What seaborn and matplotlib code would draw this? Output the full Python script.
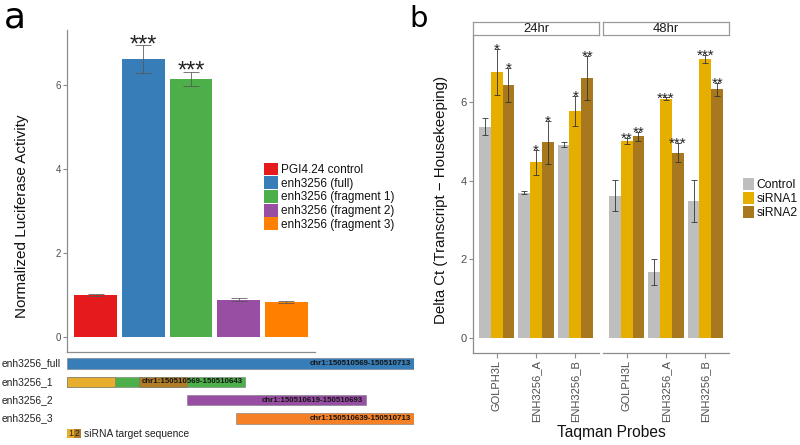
import numpy as np
import pandas as pd
import matplotlib
matplotlib.use("Agg")
import matplotlib.pyplot as plt
import matplotlib.transforms as mtransforms
from matplotlib.patches import Patch, Rectangle
import seaborn as sns

# ---------------- data: panel a ----------------
constructs = ["PGI4.24 control", "enh3256 (full)", "enh3256 (fragment 1)",
              "enh3256 (fragment 2)", "enh3256 (fragment 3)"]
luc_mean = [1.00, 6.62, 6.14, 0.89, 0.83]
luc_err = [0.03, 0.33, 0.17, 0.04, 0.02]
luc_sig = ["", "***", "***", "", ""]
construct_colors = ["#E41A1C", "#377EB8", "#4DAF4A", "#984EA3", "#FF7F00"]

# fragment map
frag_names = ["enh3256_full", "enh3256_1", "enh3256_2", "enh3256_3"]
frag_start = [150510569, 150510569, 150510619, 150510639]
frag_end = [150510713, 150510643, 150510693, 150510713]
frag_colors = ["#377EB8", "#4DAF4A", "#984EA3", "#F58025"]
sirna_labels = ["1", "2"]
sirna_start = [150510569, 150510599]
sirna_end = [150510589, 150510619]
sirna_colors = ["#E6AE2C", "#B07D26"]

# ---------------- data: panel b ----------------
probes = ["GOLPH3L", "ENH3256_A", "ENH3256_B"]
times = ["24hr", "48hr"]
treatments = ["Control", "siRNA1", "siRNA2"]
treat_colors = ["#BEBEBE", "#E6AF00", "#A8781E"]

ctrl_24 = [5.38, 3.70, 4.92]
si1_24 = [6.77, 4.47, 5.78]
si2_24 = [6.44, 4.98, 6.62]
ctrl_24_err = [0.22, 0.03, 0.07]
si1_24_err = [0.58, 0.32, 0.38]
si2_24_err = [0.43, 0.55, 0.56]
si1_24_sig = ["*", "*", "*"]
si2_24_sig = ["*", "*", "**"]

ctrl_48 = [3.62, 1.67, 3.49]
si1_48 = [5.02, 6.09, 7.10]
si2_48 = [5.13, 4.72, 6.33]
ctrl_48_err = [0.40, 0.33, 0.53]
si1_48_err = [0.08, 0.03, 0.10]
si2_48_err = [0.11, 0.25, 0.17]
si1_48_sig = ["**", "***", "***"]
si2_48_sig = ["**", "***", "**"]

# ---------------- style ----------------
sns.set_theme(style="white")
plt.rcParams["font.family"] = ["Liberation Sans", "DejaVu Sans"]

W, H = 800, 445
fig = plt.figure(figsize=(W / 100, H / 100), dpi=100)
fig.patch.set_facecolor("white")


def rect(x0, y0, x1, y1):
    return [x0 / W, 1 - y1 / H, (x1 - x0) / W, (y1 - y0) / H]


AXC = "#8C8C8C"
TXC = "#4D4D4D"

# ================= panel a =================
ax_a = fig.add_axes(rect(67, 30, 315, 352))
df_a = pd.DataFrame({"construct": constructs, "value": luc_mean})
sns.barplot(data=df_a, x="construct", y="value", hue="construct",
            palette=construct_colors, order=constructs, hue_order=constructs,
            width=0.9, linewidth=0, saturation=1, errorbar=None, legend=False,
            ax=ax_a)
centers = sorted(b.get_x() + b.get_width() / 2 for b in ax_a.patches)
ax_a.errorbar(centers, luc_mean, yerr=luc_err, fmt="none", ecolor="#555555",
              elinewidth=0.7, capsize=5.5, capthick=0.7, alpha=0.8)
for cx, m, e, s in zip(centers, luc_mean, luc_err, luc_sig):
    if s:
        ax_a.annotate(s, xy=(cx, m + e), xytext=(0, -4.3), textcoords="offset points",
                      ha="center", va="baseline", fontsize=17, color="#222222")
ax_a.set_xlim(-0.6, 4.6)
ax_a.set_ylim(-0.357, 7.31)
ax_a.set_yticks([0, 2, 4, 6])
ax_a.set_xticks([])
ax_a.set_xlabel("")
ax_a.set_ylabel("")
for sp in ["top", "right"]:
    ax_a.spines[sp].set_visible(False)
for sp in ["left", "bottom"]:
    ax_a.spines[sp].set_color(AXC)
    ax_a.spines[sp].set_linewidth(0.9)
ax_a.tick_params(axis="y", length=3, width=0.8, color=AXC, pad=1.5,
                 labelsize=7, labelcolor=TXC, left=True)
fig.text(22.5 / W, 1 - 216 / H, "Normalized Luciferase Activity", rotation=90,
         ha="center", va="center", fontsize=11, color="#111111")

leg_a = fig.legend(handles=[Patch(facecolor=c, edgecolor="none", label=l)
                            for c, l in zip(construct_colors, constructs)],
                   loc="upper left", bbox_to_anchor=(264 / W, 1 - 162.5 / H),
                   bbox_transform=fig.transFigure, frameon=False, fontsize=8.5,
                   handlelength=1.15, handleheight=1.3, handletextpad=0.25,
                   labelspacing=0.03, borderpad=0, borderaxespad=0)
for t in leg_a.get_texts():
    t.set_color("#111111")

fig.text(4 / W, 1 - 28 / H, "a", fontsize=26, ha="left", va="baseline",
         family="DejaVu Sans", color="black")

# ---------------- fragment map ----------------
ax_m = fig.add_axes(rect(67, 355, 414, 442))
row_y = np.arange(len(frag_names))
bar_h = 0.57
for i in row_y:
    ax_m.barh(i, frag_end[i] - frag_start[i], left=frag_start[i], height=bar_h,
              color=frag_colors[i], edgecolor="#7a7a7a", linewidth=0.4)
# siRNA target segments on fragment 1
ax_m.barh([1, 1], [e - s for s, e in zip(sirna_start, sirna_end)], left=sirna_start,
          height=bar_h, color=sirna_colors, edgecolor="#7a7a7a", linewidth=0.4)
for i in row_y:
    ax_m.annotate(f"chr1:{frag_start[i]}-{frag_end[i]}", xy=(frag_end[i], i),
                  xytext=(-2.2, 0), textcoords="offset points", ha="right",
                  va="center", fontsize=5.7, fontweight="bold", color="#151515")
ax_m.set_xlim(frag_start[0], frag_end[0])
ax_m.set_ylim(4.29, -0.464)
ax_m.axis("off")
blend = mtransforms.blended_transform_factory(fig.transFigure, ax_m.transData)
for i, name in zip(row_y, frag_names):
    ax_m.text(2 / W, i, name, transform=blend, ha="left", va="center",
              fontsize=7.4, color="#222222")
# siRNA legend
leg_row = 3.83
blend2 = mtransforms.blended_transform_factory(ax_m.transAxes, ax_m.transData)
box_w = 7 / 347
for k, (lab, col) in enumerate(zip(sirna_labels, sirna_colors)):
    ax_m.add_patch(Rectangle((k * box_w, leg_row - 0.23), box_w, 0.46,
                             transform=blend2, facecolor=col, edgecolor="none",
                             clip_on=False))
    ax_m.text((k + 0.5) * box_w, leg_row, lab, transform=blend2, ha="center",
              va="center", fontsize=6.3, color="#222222")
ax_m.text(2 * box_w + 3 / 347, leg_row, "siRNA target sequence", transform=blend2,
          ha="left", va="center", fontsize=7.4, color="#222222")

# ================= panel b =================
x_lims = (-0.6, 2.6)
panel_px = [(473, 599), (603, 729)]
series = {
    "24hr": ([ctrl_24, si1_24, si2_24], [ctrl_24_err, si1_24_err, si2_24_err],
             [None, si1_24_sig, si2_24_sig]),
    "48hr": ([ctrl_48, si1_48, si2_48], [ctrl_48_err, si1_48_err, si2_48_err],
             [None, si1_48_sig, si2_48_sig]),
}
for j, tm in enumerate(times):
    x0, x1 = panel_px[j]
    ax = fig.add_axes(rect(x0, 35, x1, 353))
    vals, errs, sigs = series[tm]
    rows = []
    for t, v in zip(treatments, vals):
        for p, val in zip(probes, v):
            rows.append({"probe": p, "treatment": t, "value": val})
    df = pd.DataFrame(rows)
    sns.barplot(data=df, x="probe", y="value", hue="treatment", order=probes,
                hue_order=treatments, palette=treat_colors, width=0.9,
                linewidth=0, saturation=1, errorbar=None, legend=False, ax=ax)
    bar_conts = list(ax.containers)
    for k, cont in enumerate(bar_conts):
        xs = [b.get_x() + b.get_width() / 2 for b in cont]
        ax.errorbar(xs, vals[k], yerr=errs[k], fmt="none", ecolor="#333333",
                    elinewidth=0.6, capsize=2.2, capthick=0.6)
        if sigs[k] is not None:
            for xx, m, e, s in zip(xs, vals[k], errs[k], sigs[k]):
                ax.annotate(s, xy=(xx, m + e), xytext=(0, -3.6),
                            textcoords="offset points", ha="center",
                            va="baseline", fontsize=11, color="#222222")
    ax.set_xlim(*x_lims)
    ax.set_ylim(-0.38, 7.71)
    ax.set_xlabel("")
    ax.set_ylabel("")
    ax.set_yticks([0, 2, 4, 6])
    for sp in ["top", "right"]:
        ax.spines[sp].set_visible(False)
    ax.spines["bottom"].set_color(AXC)
    ax.spines["bottom"].set_linewidth(0.9)
    ax.tick_params(axis="x", length=3.5, width=0.8, color=AXC, pad=1.5,
                   labelsize=8.0, labelcolor=TXC, labelrotation=90, bottom=True)
    if j == 0:
        ax.spines["left"].set_color(AXC)
        ax.spines["left"].set_linewidth(0.9)
        ax.tick_params(axis="y", length=3, width=0.8, color=AXC, pad=1.5,
                       labelsize=8, labelcolor=TXC, left=True)
    else:
        ax.spines["left"].set_visible(False)
        ax.tick_params(axis="y", left=False, labelleft=False)
    # strip
    st = fig.add_axes(rect(x0, 21.7, x1, 35))
    st.set_xticks([])
    st.set_yticks([])
    st.set_facecolor("white")
    for sp in st.spines.values():
        sp.set_color("#9A9A9A")
        sp.set_linewidth(0.9)
    st.text(0.5, 0.48, tm, transform=st.transAxes, ha="center", va="center",
            fontsize=9.4, color="#1a1a1a")

fig.text(611 / W, 1 - 432.5 / H, "Taqman Probes", ha="center", va="center",
         fontsize=11.2, color="#111111")
fig.text(441 / W, 1 - 200 / H, "Delta Ct (Transcript \u2212 Housekeeping)",
         rotation=90, ha="center", va="center", fontsize=10.8, color="#111111")

leg_b = fig.legend(handles=[Patch(facecolor=c, edgecolor="none", label=l)
                            for c, l in zip(treat_colors, treatments)],
                   loc="upper left", bbox_to_anchor=(743 / W, 1 - 178 / H),
                   bbox_transform=fig.transFigure, frameon=False, fontsize=8.7,
                   handlelength=0.9, handleheight=1.1, handletextpad=0.2,
                   labelspacing=0.1, borderpad=0, borderaxespad=0)
for t in leg_b.get_texts():
    t.set_color("#111111")

fig.text(409 / W, 1 - 27 / H, "b", fontsize=21, ha="left", va="baseline",
         family="DejaVu Sans", color="black")

fig.savefig("out.png", dpi=100)
